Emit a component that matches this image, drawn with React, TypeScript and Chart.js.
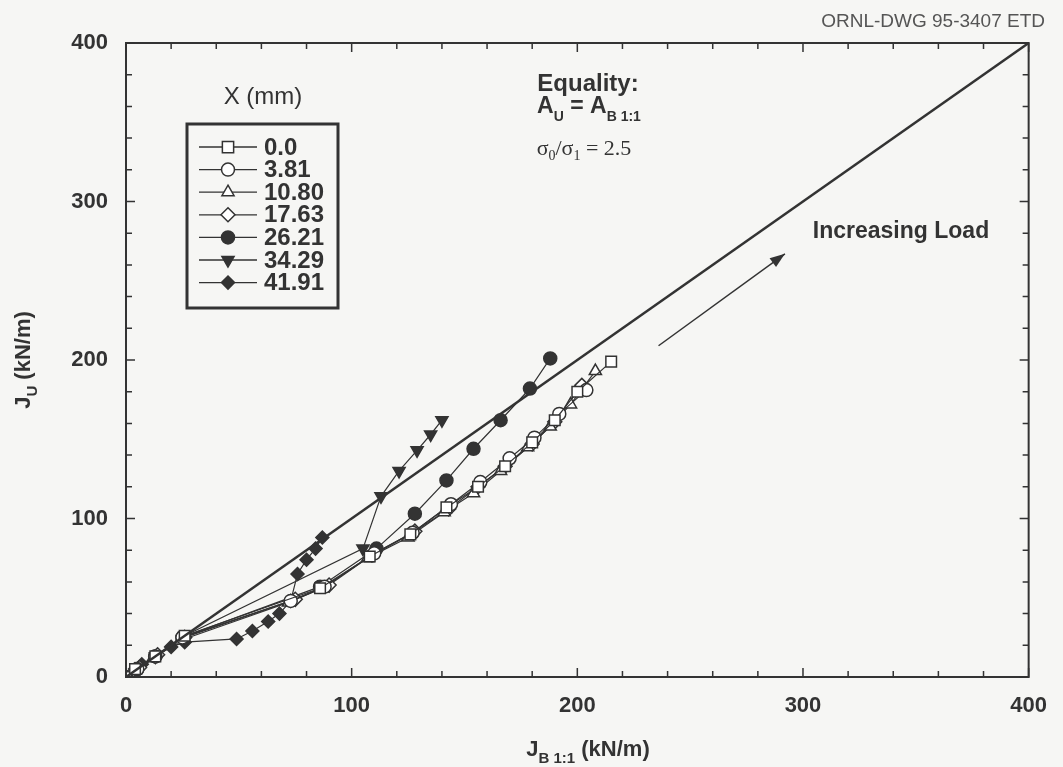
import React, { useEffect, useRef } from "react";
import { Chart, registerables } from "chart.js";
Chart.register(...registerables);

const SANS = '"Liberation Sans", Arial, Helvetica, sans-serif';
const SERIF = '"Liberation Serif", "Times New Roman", serif';
const INK = "#333333";
const BG = "#f6f6f4";

// ---- data ----
const seriesNames = ["0.0", "3.81", "10.80", "17.63", "26.21", "34.29", "41.91"];

const x00 = [0, 4, 13, 26, 86, 108, 126, 142, 156, 168, 180, 190, 200, 215];
const y00 = [0, 5, 13, 26, 56, 76, 90, 107, 120, 133, 148, 162, 180, 199];

const x381 = [0, 5, 13, 25, 73, 88, 110, 127, 144, 157, 170, 181, 192, 204];
const y381 = [0, 5, 13, 25, 48, 57, 78, 91, 109, 123, 138, 151, 166, 181];

const x1080 = [0, 4, 12, 24, 72, 87, 107, 125, 141, 154, 166, 178, 188, 197, 208];
const y1080 = [0, 4, 12, 23, 47, 56, 75, 88, 104, 116, 130, 145, 158, 172, 193];

const x1763 = [0, 6, 14, 26, 75, 90, 109, 128, 143, 156, 168, 180, 190, 202];
const y1763 = [0, 6, 14, 25, 49, 58, 77, 92, 106, 120, 133, 147, 161, 184];

const x2621 = [0, 5, 13, 25, 86, 111, 128, 142, 154, 166, 179, 188];
const y2621 = [0, 5, 13, 25, 57, 81, 103, 124, 144, 162, 182, 201];

const x3429 = [0, 5, 13, 26, 105, 113, 121, 129, 135, 140];
const y3429 = [0, 5, 13, 26, 81, 114, 130, 143, 153, 162];

const x4191 = [0, 4, 7, 13, 20, 26, 49, 56, 63, 68, 73, 76, 80, 84, 87];
const y4191 = [0, 5, 8, 13, 19, 22, 24, 29, 35, 40, 48, 65, 74, 81, 88];

const equalityX = [0, 400];
const equalityY = [0, 400];

const arrowX = [236, 292];
const arrowY = [209, 267];

const axisMin = 0;
const axisMax = 400;
const majorStep = 100;
const minorStep = 20;

const seriesX = [x00, x381, x1080, x1763, x2621, x3429, x4191];
const seriesY = [y00, y381, y1080, y1763, y2621, y3429, y4191];

// marker styles per series
const markerStyles = [
  { style: "rect", rot: 0, filled: false, r: 7.5 },
  { style: "circle", rot: 0, filled: false, r: 6.5 },
  { style: "triangle", rot: 0, filled: false, r: 7 },
  { style: "rectRot", rot: 0, filled: false, r: 7 },
  { style: "circle", rot: 0, filled: true, r: 6.5 },
  { style: "triangle", rot: 180, filled: true, r: 7 },
  { style: "rectRot", rot: 0, filled: true, r: 6.5 },
];

type Part = { t: string; sub?: boolean };

function drawRich(
  ctx: CanvasRenderingContext2D,
  parts: Part[],
  cx: number,
  cy: number,
  font: string,
  subFont: string,
  subDy: number
) {
  let total = 0;
  const widths = parts.map((p) => {
    ctx.font = p.sub ? subFont : font;
    const w = ctx.measureText(p.t).width;
    total += w;
    return w;
  });
  let x = cx - total / 2;
  ctx.textAlign = "left";
  ctx.textBaseline = "middle";
  parts.forEach((p, i) => {
    ctx.font = p.sub ? subFont : font;
    ctx.fillText(p.t, x, cy + (p.sub ? subDy : 0));
    x += widths[i];
  });
}

function drawMarker(
  ctx: CanvasRenderingContext2D,
  style: string,
  rot: number,
  x: number,
  y: number,
  r: number,
  filled: boolean
) {
  ctx.beginPath();
  if (style === "circle") {
    ctx.arc(x, y, r, 0, Math.PI * 2);
  } else if (style === "rect") {
    const s = r * 0.75;
    ctx.rect(x - s, y - s, 2 * s, 2 * s);
  } else if (style === "rectRot") {
    ctx.moveTo(x, y - r);
    ctx.lineTo(x + r, y);
    ctx.lineTo(x, y + r);
    ctx.lineTo(x - r, y);
    ctx.closePath();
  } else if (style === "triangle") {
    let a = (rot * Math.PI) / 180;
    ctx.moveTo(x + Math.sin(a) * r, y - Math.cos(a) * r);
    a += (2 * Math.PI) / 3;
    ctx.lineTo(x + Math.sin(a) * r, y - Math.cos(a) * r);
    a += (2 * Math.PI) / 3;
    ctx.lineTo(x + Math.sin(a) * r, y - Math.cos(a) * r);
    ctx.closePath();
  }
  ctx.fillStyle = filled ? INK : "#ffffff";
  ctx.fill();
  ctx.lineWidth = 1.5;
  ctx.strokeStyle = INK;
  ctx.stroke();
}

const backgroundPlugin = {
  id: "bg",
  beforeDraw(chart: any) {
    const ctx = chart.ctx;
    ctx.save();
    ctx.fillStyle = BG;
    ctx.fillRect(0, 0, chart.width, chart.height);
    ctx.restore();
  },
};

const overlayPlugin = {
  id: "overlay",
  afterDraw(chart: any) {
    const ctx: CanvasRenderingContext2D = chart.ctx;
    const xs = chart.scales.x;
    const ys = chart.scales.y;
    const { left, right, top, bottom } = chart.chartArea;
    ctx.save();

    // frame
    ctx.strokeStyle = INK;
    ctx.lineWidth = 2;
    ctx.strokeRect(left, top, right - left, bottom - top);

    // inward ticks
    ctx.lineWidth = 1.5;
    for (let v = axisMin; v <= axisMax; v += minorStep) {
      const len = v % majorStep === 0 ? 9 : 6;
      const px = xs.getPixelForValue(v);
      const py = ys.getPixelForValue(v);
      ctx.beginPath();
      ctx.moveTo(px, bottom);
      ctx.lineTo(px, bottom - len);
      ctx.moveTo(px, top);
      ctx.lineTo(px, top + len);
      ctx.moveTo(left, py);
      ctx.lineTo(left + len, py);
      ctx.moveTo(right, py);
      ctx.lineTo(right - len, py);
      ctx.stroke();
    }

    ctx.fillStyle = INK;

    // axis titles
    drawRich(
      ctx,
      [{ t: "J" }, { t: "B 1:1", sub: true }, { t: " (kN/m)" }],
      588,
      750,
      `bold 22px ${SANS}`,
      `bold 15px ${SANS}`,
      9
    );
    ctx.save();
    ctx.translate(24, 360);
    ctx.rotate(-Math.PI / 2);
    drawRich(
      ctx,
      [{ t: "J" }, { t: "U", sub: true }, { t: " (kN/m)" }],
      0,
      0,
      `bold 22px ${SANS}`,
      `bold 15px ${SANS}`,
      9
    );
    ctx.restore();

    // document tag
    ctx.font = `19px ${SANS}`;
    ctx.fillStyle = "#555555";
    ctx.textAlign = "right";
    ctx.textBaseline = "middle";
    ctx.fillText("ORNL-DWG 95-3407 ETD", 1045, 22);
    ctx.fillStyle = INK;

    // equality annotation
    ctx.textAlign = "center";
    ctx.textBaseline = "middle";
    ctx.font = `bold 24px ${SANS}`;
    ctx.fillText("Equality:", 588, 84);
    drawRich(
      ctx,
      [{ t: "A" }, { t: "U", sub: true }, { t: " = A" }, { t: "B 1:1", sub: true }],
      589,
      107,
      `bold 23px ${SANS}`,
      `bold 14px ${SANS}`,
      10
    );
    drawRich(
      ctx,
      [{ t: "σ" }, { t: "0", sub: true }, { t: "/σ" }, { t: "1", sub: true }, { t: " = 2.5" }],
      584,
      149,
      `22px ${SERIF}`,
      `14px ${SERIF}`,
      7
    );

    // increasing load
    ctx.font = `bold 23px ${SANS}`;
    ctx.textAlign = "center";
    ctx.textBaseline = "middle";
    ctx.fillText("Increasing Load", 901, 232);
    const ax0 = xs.getPixelForValue(arrowX[0]);
    const ay0 = ys.getPixelForValue(arrowY[0]);
    const ax1 = xs.getPixelForValue(arrowX[1]);
    const ay1 = ys.getPixelForValue(arrowY[1]);
    ctx.strokeStyle = INK;
    ctx.lineWidth = 1.5;
    ctx.beginPath();
    ctx.moveTo(ax0, ay0);
    ctx.lineTo(ax1, ay1);
    ctx.stroke();
    const ang = Math.atan2(ay1 - ay0, ax1 - ax0);
    const hl = 15;
    const hw = 5.5;
    ctx.beginPath();
    ctx.moveTo(ax1, ay1);
    ctx.lineTo(
      ax1 - hl * Math.cos(ang) + hw * Math.sin(ang),
      ay1 - hl * Math.sin(ang) - hw * Math.cos(ang)
    );
    ctx.lineTo(
      ax1 - hl * Math.cos(ang) - hw * Math.sin(ang),
      ay1 - hl * Math.sin(ang) + hw * Math.cos(ang)
    );
    ctx.closePath();
    ctx.fill();

    // legend
    ctx.font = `24px ${SANS}`;
    ctx.textAlign = "center";
    ctx.fillText("X (mm)", 263, 97);
    const bx = 187;
    const by = 124;
    const bw = 151;
    const bh = 184;
    ctx.lineWidth = 3;
    ctx.strokeRect(bx, by, bw, bh);
    seriesNames.forEach((name, i) => {
      const ry = 147 + i * 22.6;
      ctx.lineWidth = 1.3;
      ctx.strokeStyle = INK;
      ctx.beginPath();
      ctx.moveTo(199, ry);
      ctx.lineTo(257, ry);
      ctx.stroke();
      const m = markerStyles[i];
      drawMarker(ctx, m.style, m.rot, 228, ry, m.r, m.filled);
      ctx.fillStyle = INK;
      ctx.font = `bold 24px ${SANS}`;
      ctx.textAlign = "left";
      ctx.textBaseline = "middle";
      ctx.fillText(name, 264, ry + 1);
    });

    ctx.restore();
  },
};

export default function App() {
  const ref = useRef<HTMLCanvasElement | null>(null);

  useEffect(() => {
    if (!ref.current) return;
    const datasets: any[] = [
      {
        label: "Equality",
        data: equalityX.map((x, i) => ({ x, y: equalityY[i] })),
        borderColor: INK,
        borderWidth: 2.5,
        pointRadius: 0,
        showLine: true,
      },
    ];
    seriesNames.forEach((name, i) => {
      const m = markerStyles[i];
      datasets.push({
        label: name,
        data: seriesX[i].map((x, j) => ({ x, y: seriesY[i][j] })),
        showLine: true,
        borderColor: INK,
        borderWidth: 1.2,
        pointStyle: m.style,
        rotation: m.rot,
        pointRadius: m.r,
        pointBorderWidth: 1.5,
        pointBorderColor: INK,
        pointBackgroundColor: m.filled ? INK : "#ffffff",
      });
    });

    const tickFont = { family: SANS, size: 22, weight: "bold" as const };
    const chart = new Chart(ref.current, {
      type: "scatter",
      data: { datasets },
      options: {
        animation: false,
        responsive: false,
        devicePixelRatio: 1,
        layout: { padding: { top: 43, right: 29, left: 0, bottom: 0 } },
        plugins: { legend: { display: false }, tooltip: { enabled: false } },
        scales: {
          x: {
            type: "linear",
            min: axisMin,
            max: axisMax,
            ticks: { stepSize: majorStep, font: tickFont, color: INK, padding: 16 },
            grid: { display: false, drawTicks: false },
            border: { display: false },
            afterFit: (s: any) => {
              s.height = 90;
            },
          },
          y: {
            type: "linear",
            min: axisMin,
            max: axisMax,
            ticks: { stepSize: majorStep, font: tickFont, color: INK, padding: 18 },
            grid: { display: false, drawTicks: false },
            border: { display: false },
            afterFit: (s: any) => {
              s.width = 126;
            },
          },
        },
      },
      plugins: [backgroundPlugin, overlayPlugin],
    });
    return () => chart.destroy();
  }, []);

  return (
    <div style={{ position: "absolute", left: 0, top: 0, width: 1063, height: 767, background: BG }}>
      <canvas ref={ref} width={1063} height={767} style={{ display: "block" }} />
    </div>
  );
}
